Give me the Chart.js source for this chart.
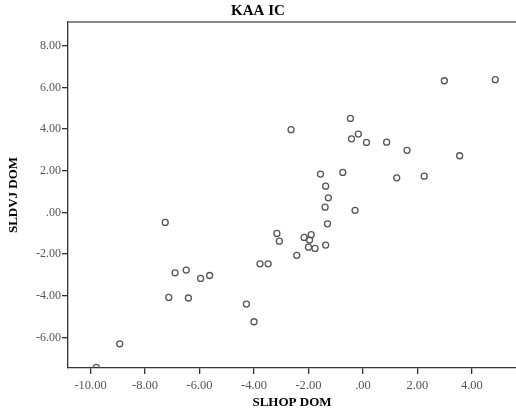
<!DOCTYPE html>
<html>
<head>
<meta charset="utf-8">
<script src="https://cdn.jsdelivr.net/npm/chart.js@4/dist/chart.umd.min.js"></script>
<style>
  html, body { margin: 0; padding: 0; background: #ffffff; }
  #wrap { width: 516px; height: 419px; position: relative; }
</style>
</head>
<body>
<div id="wrap"><canvas id="c" width="516" height="419"></canvas></div>
<script>
// SLHOP DOM (x) and SLDVJ DOM (y)
const xValues = [2.99, 4.86, -0.46, -2.64, -0.17, -0.42, 0.13, 0.87, 1.62, 3.55,
                 -1.56, -0.74, 1.24, 2.25, -1.37, -1.27, -1.39, -0.29, -1.30, -2.16,
                 -1.90, -1.96, -2.00, -1.76, -1.37, -2.43, -7.26, -3.16, -3.07, -6.90,
                 -6.49, -5.96, -5.63, -3.78, -3.48, -7.13, -6.41, -4.28, -4.00, -8.93,
                 -9.79];
const yValues = [6.32, 6.37, 4.51, 3.97, 3.76, 3.53, 3.36, 3.37, 2.98, 2.72,
                 1.84, 1.92, 1.66, 1.74, 1.26, 0.70, 0.25, 0.10, -0.55, -1.20,
                 -1.07, -1.33, -1.67, -1.73, -1.57, -2.06, -0.48, -1.01, -1.38, -2.90,
                 -2.77, -3.17, -3.03, -2.47, -2.47, -4.08, -4.11, -4.40, -5.25, -6.31,
                 -7.44];
const xTicks = [-10, -8, -6, -4, -2, 0, 2, 4];
const xTickLabels = ['-10.00', '-8.00', '-6.00', '-4.00', '-2.00', '.00', '2.00', '4.00'];
const yTicks = [-6, -4, -2, 0, 2, 4, 6, 8];
const yTickLabels = ['-6.00', '-4.00', '-2.00', '.00', '2.00', '4.00', '6.00', '8.00'];
const chartTitle = 'KAA IC';
const xTitle = 'SLHOP DOM';
const yTitle = 'SLDVJ DOM';

const points = xValues.map((x, i) => ({ x: x, y: yValues[i] }));

const topLine = {
  id: 'topLine',
  afterDraw(chart) {
    const { ctx, chartArea } = chart;
    ctx.save();
    ctx.strokeStyle = '#8a8a8a';
    ctx.lineWidth = 2;
    ctx.beginPath();
    ctx.moveTo(chartArea.left, chartArea.top);
    ctx.lineTo(chartArea.right, chartArea.top);
    ctx.stroke();
    ctx.restore();
  }
};

new Chart(document.getElementById('c'), {
  type: 'scatter',
  data: {
    datasets: [{
      data: points,
      pointStyle: 'circle',
      pointRadius: 3,
      pointHoverRadius: 3,
      borderColor: '#555555',
      backgroundColor: 'rgba(255,255,255,0)',
      pointBorderWidth: 1.3
    }]
  },
  options: {
    responsive: false,
    animation: false,
    devicePixelRatio: 1,
    layout: { padding: 0, autoPadding: false },
    plugins: {
      legend: { display: false },
      tooltip: { enabled: false },
      title: {
        display: true,
        text: chartTitle,
        color: '#000000',
        font: { family: 'Liberation Serif', size: 15, weight: 'bold' },
        padding: { top: 2, bottom: 2 }
      }
    },
    scales: {
      x: {
        type: 'linear',
        min: -10.83,
        max: 5.62,
        afterBuildTicks(scale) { scale.ticks = xTicks.map(v => ({ value: v })); },
        afterFit(scale) { scale.height = 51; },
        ticks: {
          autoSkip: false,
          maxRotation: 0,
          color: '#555555',
          padding: 4,
          font: { family: 'Liberation Serif', size: 12.5 },
          callback: (v) => xTickLabels[xTicks.indexOf(v)]
        },
        grid: { drawOnChartArea: false, drawTicks: true, tickLength: 6, color: '#333333', lineWidth: 1.3 },
        border: { display: true, color: '#333333', width: 1.3 },
        title: {
          display: true,
          text: xTitle,
          color: '#000000',
          font: { family: 'Liberation Serif', size: 13, weight: 'bold' },
          padding: { top: 0, bottom: 9 }
        }
      },
      y: {
        type: 'linear',
        min: -7.47,
        max: 9.14,
        afterBuildTicks(scale) { scale.ticks = yTicks.map(v => ({ value: v })); },
        afterFit(scale) { scale.width = 68; },
        ticks: {
          autoSkip: false,
          color: '#555555',
          padding: 1,
          font: { family: 'Liberation Serif', size: 12 },
          callback: (v) => yTickLabels[yTicks.indexOf(v)]
        },
        grid: { drawOnChartArea: false, drawTicks: true, tickLength: 6, color: '#333333', lineWidth: 1.3 },
        border: { display: true, color: '#333333', width: 1.3 },
        title: {
          display: true,
          text: yTitle,
          color: '#000000',
          font: { family: 'Liberation Serif', size: 13, weight: 'bold' },
          padding: { top: 6, bottom: 0 }
        }
      }
    }
  },
  plugins: [topLine]
});
</script>
</body>
</html>
